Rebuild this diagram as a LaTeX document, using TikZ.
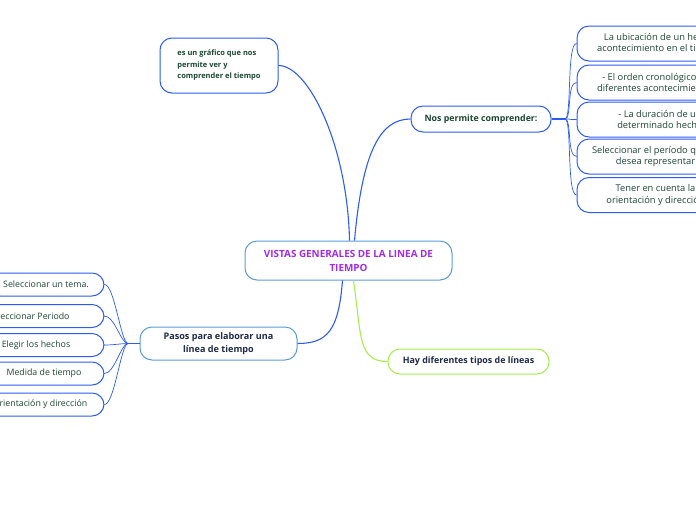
\documentclass[tikz,border=0pt]{standalone}
\usepackage{fontspec}
\setmainfont{Open Sans}
\usetikzlibrary{calc}
\definecolor{edgeblue}{HTML}{2D5CF4}
\definecolor{softblue}{HTML}{5B9BD8}
\definecolor{lime}{HTML}{A6EE4E}
\definecolor{leaf}{HTML}{1C4634}
\definecolor{ink}{HTML}{1F2A48}
\definecolor{violet}{HTML}{A22BEA}

\begin{document}
\begin{tikzpicture}[x=1pt, y=-1pt,
  topic/.style={draw=edgeblue, line width=1pt, rounded corners=12pt, fill=white, align=center, text=leaf},
  leafr/.style={topic, minimum height=35pt, font=\fontsize{9.3}{11.8}\selectfont},
  leafl/.style={topic, minimum height=23pt, font=\fontsize{8.8}{10}\selectfont},
  link/.style={edgeblue, line width=1.1pt}]
  \useasboundingbox (0,0) rectangle (696,520);
  \clip (0,0) rectangle (696,520);

  \node[topic, draw=softblue, minimum width=207pt, minimum height=39pt, text=violet,
        font=\bfseries\fontsize{9.9}{14}\selectfont] (vistas) at (348.5,260.5)
        {VISTAS GENERALES DE LA LINEA DE\\TIEMPO};

  \node[topic, minimum width=118pt, minimum height=55pt, align=left,
        font=\bfseries\fontsize{7.5}{11.5}\selectfont] (grafico) at (219,65.5)
        {es un gráfico que nos\\permite ver y\\comprender el tiempo};

  \node[topic, minimum width=140pt, minimum height=26pt, font=\bfseries\fontsize{8.8}{10}\selectfont]
        (comprender) at (481,119) {Nos permite comprender:};

  \node[topic, draw=softblue, minimum width=157pt, minimum height=33pt, text=ink,
        font=\bfseries\fontsize{9.1}{13}\selectfont] (pasos) at (218.5,343.5)
        {Pasos para elaborar una\\línea de tiempo};

  \node[topic, draw=lime, minimum width=161pt, minimum height=25pt, text=ink,
        font=\bfseries\fontsize{8.9}{10}\selectfont] (tipos) at (468.5,361.5)
        {Hay diferentes tipos de líneas};

  % right branch
  \node[leafr, minimum width=164pt] (r1) at (659,43.5) {La ubicación de un hecho\\acontecimiento en el tiempo};
  \node[leafr, minimum width=158pt] (r2) at (656,82.5) {- El orden cronológico de\\diferentes acontecimientos};
  \node[leafr, minimum width=166pt] (r3) at (660,119.5) {- La duración de un\\determinado hecho};
  \node[leafr, minimum width=157pt] (r4) at (655.5,156.5) {Seleccionar el período que se\\desea representar};
  \node[leafr, minimum width=157pt] (r5) at (655.5,195) {Tener en cuenta la\\orientación y dirección};

  % left branch
  \node[leafl, minimum width=116pt] (l1) at (46,284.5) {Seleccionar un tema.};
  \node[leafl, minimum width=150pt] (l2) at (29,316) {Seleccionar Periodo};
  \node[leafl, minimum width=136pt] (l3) at (36,345) {Elegir los hechos};
  \node[leafl, minimum width=120pt] (l4) at (44,373.5) {Medida de tiempo};
  \node[leafl, minimum width=128pt] (l5) at (40,404.5) {Orientación y dirección};

  \coordinate (rfork) at (565,119);
  \coordinate (lfork) at (128,343.5);

  \begin{scope}[on background layer/.try]
  \draw[link] ($(vistas.north)+(1,0)$) .. controls +(-2,-95) and +(30,0) .. (grafico.east);
  \draw[link] ($(vistas.north)+(6,0)$) .. controls +(8,-90) and +(-30,0) .. (comprender.west);
  \draw[lime, line width=1.1pt] ($(vistas.south)+(5,0)$) .. controls +(8,55) and +(-30,0) .. (tipos.west);
  \draw[link] ($(vistas.south)+(-6,0)$) .. controls +(-4,50) and +(30,0) .. (pasos.east);

  \draw[link] (comprender.east) -- (rfork);
  \foreach \n in {r1,r2,r3,r4,r5}
    \draw[link, line width=0.7pt] (rfork) .. controls +(7,0) and +(-10,0) .. (\n.west);

  \draw[link] (pasos.west) -- (lfork);
  \foreach \n in {l1,l2,l3,l4,l5}
    \draw[link, line width=0.7pt] (lfork) .. controls +(-7,0) and +(10,0) .. (\n.east);
  \end{scope}
\end{tikzpicture}
\end{document}
